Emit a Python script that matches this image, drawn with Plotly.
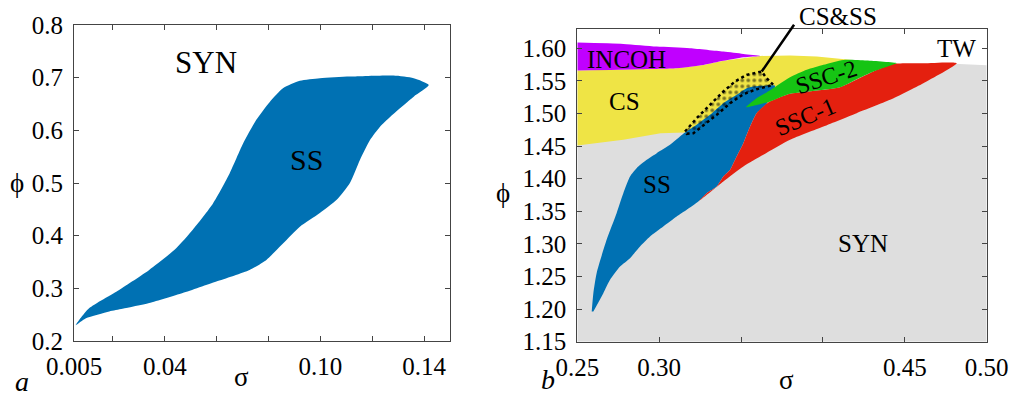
import plotly.graph_objects as go

# ---------------- Panel a : SS region ----------------
ss_a_sigma = [0.0057, 0.0108, 0.0224, 0.0340, 0.0444, 0.0508, 0.0586, 0.0650, 0.0702, 0.0753,
              0.0805, 0.0856, 0.0921, 0.0998, 0.1114, 0.1282, 0.1360, 0.1418,
              0.1360, 0.1270, 0.1230, 0.1192, 0.1153, 0.1114, 0.1063, 0.0998, 0.0921, 0.0856,
              0.0792, 0.0727, 0.0599, 0.0469, 0.0340, 0.0237, 0.0186, 0.0096, 0.0057]
ss_a_phi = [0.230, 0.262, 0.297, 0.335, 0.376, 0.411, 0.461, 0.518, 0.575, 0.620,
            0.654, 0.680, 0.694, 0.699, 0.702, 0.704, 0.699, 0.686,
            0.664, 0.626, 0.607, 0.582, 0.544, 0.500, 0.468, 0.443, 0.417, 0.385,
            0.354, 0.335, 0.313, 0.291, 0.272, 0.261, 0.256, 0.243, 0.230]

# ---------------- Panel b : regions ----------------
syn_sigma = [0.25, 0.50, 0.50, 0.48, 0.44, 0.40, 0.25]
syn_phi = [1.15, 1.15, 1.574, 1.576, 1.572, 1.565, 1.56]

cs_sigma = [0.25, 0.2883, 0.3107, 0.3270, 0.3392, 0.3616, 0.3799, 0.3962, 0.4125, 0.4227,
            0.4104, 0.3799, 0.3656, 0.3514, 0.3290, 0.3158, 0.3009, 0.2781, 0.25]
cs_phi = [1.5658, 1.5678, 1.5693, 1.5744, 1.5806, 1.5882, 1.5888, 1.5872, 1.5831, 1.5806,
          1.5515, 1.5336, 1.5147, 1.4799, 1.4697, 1.4707, 1.4697, 1.4595, 1.4508]

incoh_sigma = [0.25, 0.2781, 0.2985, 0.3188, 0.3392, 0.3514, 0.3616, 0.3514, 0.3392, 0.3270,
               0.3107, 0.2883, 0.25]
incoh_phi = [1.6087, 1.6066, 1.6026, 1.6000, 1.5949, 1.5913, 1.5882, 1.5862, 1.5806, 1.5744,
             1.5693, 1.5678, 1.5658]

ss_b_sigma = [0.2588, 0.2598, 0.2618, 0.2679, 0.2740, 0.2781, 0.2822, 0.2862, 0.2924, 0.2985,
              0.3066, 0.3127, 0.3158, 0.3229, 0.3310, 0.3392, 0.3473, 0.3534, 0.3575, 0.3636,
              0.3707, 0.3656, 0.3595, 0.3555, 0.3514, 0.3473, 0.3433, 0.3392, 0.3351, 0.3290,
              0.3239, 0.3168, 0.3107, 0.3025, 0.2944, 0.2883, 0.2822, 0.2761, 0.2700, 0.2659,
              0.2598]
ss_b_phi = [1.1963, 1.2244, 1.2551, 1.3062, 1.3471, 1.3777, 1.4033, 1.4160, 1.4288, 1.4390,
            1.4518, 1.4646, 1.4707, 1.4825, 1.4978, 1.5157, 1.5285, 1.5387, 1.5412, 1.5423,
            1.5423, 1.5147, 1.5004, 1.4799, 1.4544, 1.4339, 1.4135, 1.4033, 1.3879, 1.3777,
            1.3649, 1.3522, 1.3419, 1.3266, 1.3113, 1.2960, 1.2781, 1.2653, 1.2449, 1.2244,
            1.1963]

ssc1_sigma = [0.3656, 0.3677, 0.3799, 0.3962, 0.4104, 0.4308, 0.4430, 0.4613, 0.4817,
              0.4613, 0.4410, 0.4206, 0.4003, 0.3799, 0.3636, 0.3514, 0.3392, 0.3239,
              0.3290, 0.3351, 0.3392, 0.3433, 0.3473, 0.3514, 0.3555, 0.3595, 0.3656]
ssc1_phi = [1.5147, 1.5182, 1.5300, 1.5351, 1.5402, 1.5642, 1.5760, 1.5770, 1.5770,
            1.5463, 1.5208, 1.5004, 1.4799, 1.4595, 1.4365, 1.4186, 1.3956, 1.3649,
            1.3777, 1.3879, 1.4033, 1.4135, 1.4339, 1.4544, 1.4799, 1.5004, 1.5147]

ssc2_sigma = [0.3530, 0.3595, 0.3656, 0.3718, 0.3799, 0.3901, 0.4003, 0.4125, 0.4267, 0.4450,
              0.4430, 0.4308, 0.4206, 0.4104, 0.3962, 0.3799, 0.3677, 0.3595, 0.3530]
ssc2_phi = [1.5096, 1.5234, 1.5320, 1.5423, 1.5555, 1.5668, 1.5745, 1.5821, 1.5811, 1.5770,
            1.5750, 1.5642, 1.5525, 1.5402, 1.5351, 1.5300, 1.5182, 1.5131, 1.5096]

csss_sigma = [0.3158, 0.3229, 0.3310, 0.3392, 0.3463, 0.3534, 0.3626, 0.3656, 0.3697,
              0.3595, 0.3514, 0.3433, 0.3351, 0.3270, 0.3209, 0.3168, 0.3158]
csss_phi = [1.4723, 1.4927, 1.5131, 1.5336, 1.5489, 1.5591, 1.5642, 1.5540, 1.5438,
            1.5371, 1.5295, 1.5157, 1.4978, 1.4814, 1.4697, 1.4687, 1.4723]

# ticks
a_xticks = [0.005, 0.02, 0.04, 0.06, 0.08, 0.10, 0.12, 0.14]
a_xtext = ["0.005", "", "0.04", "", "", "0.10", "", "0.14"]
a_yticks = [0.2, 0.3, 0.4, 0.5, 0.6, 0.7, 0.8]
a_ytext = ["0.2", "0.3", "0.4", "0.5", "0.6", "0.7", "0.8"]
b_xticks = [0.25, 0.30, 0.35, 0.40, 0.45, 0.50]
b_xtext = ["0.25", "0.30", "", "", "0.45", "0.50"]
b_yticks = [1.15, 1.20, 1.25, 1.30, 1.35, 1.40, 1.45, 1.50, 1.55, 1.60]
b_ytext = ["1.15", "1.20", "1.25", "1.30", "1.35", "1.40", "1.45", "1.50", "1.55", "1.60"]

BLUE = "#0071b3"
GRAY = "#dedede"
YELLOW = "#efe445"
PURPLE = "#c000ff"
GREEN = "#16c414"
RED = "#e4200f"
FONT = "Liberation Serif"

fig = go.Figure()


def region(xs, ys, color, xa, ya, shape="spline"):
    fig.add_trace(go.Scatter(x=xs, y=ys, fill="toself", fillcolor=color, mode="lines",
                             line=dict(width=0, color=color, shape=shape, smoothing=0.6),
                             hoverinfo="skip", showlegend=False, xaxis=xa, yaxis=ya))


region(ss_a_sigma, ss_a_phi, BLUE, "x", "y")
region(syn_sigma, syn_phi, GRAY, "x2", "y2", shape="linear")
region(cs_sigma, cs_phi, YELLOW, "x2", "y2", shape="linear")
region(incoh_sigma, incoh_phi, PURPLE, "x2", "y2")
region(ss_b_sigma, ss_b_phi, BLUE, "x2", "y2")
region(ssc1_sigma, ssc1_phi, RED, "x2", "y2")
region(ssc2_sigma, ssc2_phi, GREEN, "x2", "y2")

# CS&SS dotted region
fig.add_trace(go.Scatter(x=csss_sigma, y=csss_phi, fill="toself", mode="lines",
                         fillcolor="rgba(0,0,0,0)",
                         fillpattern=dict(shape=".", fgcolor="black", bgcolor="rgba(0,0,0,0)",
                                          size=6, solidity=0.3),
                         line=dict(width=2.5, color="black", dash="dot"),
                         hoverinfo="skip", showlegend=False, xaxis="x2", yaxis="y2"))

axis_common = dict(showgrid=False, zeroline=False, showline=True, linecolor="#444",
                   linewidth=1, mirror="ticks", ticks="inside", ticklen=5, tickcolor="#444",
                   automargin=False,
                   tickfont=dict(family=FONT, size=25, color="black"))

fig.update_layout(
    width=1011, height=396,
    margin=dict(l=0, r=0, t=0, b=0),
    paper_bgcolor="white", plot_bgcolor="white",
    xaxis=dict(domain=[74 / 1011, 450 / 1011], range=[0.005, 0.15], tickvals=a_xticks,
               ticktext=a_xtext, anchor="y", ticklabelstandoff=3, **axis_common),
    yaxis=dict(domain=[1 - 341 / 396, 1 - 25 / 396], range=[0.2, 0.8], tickvals=a_yticks,
               ticktext=a_ytext, anchor="x", ticklabelstandoff=5, **axis_common),
    xaxis2=dict(domain=[577.3 / 1011, 986.7 / 1011], range=[0.25, 0.50], tickvals=b_xticks,
                ticktext=b_xtext, anchor="y2", ticklabelstandoff=3, **axis_common),
    yaxis2=dict(domain=[1 - 341.7 / 396, 1 - 29.3 / 396], range=[1.15, 1.629], tickvals=b_yticks,
                ticktext=b_ytext, anchor="x2", ticklabelstandoff=5, **axis_common),
)

anns = []


def label(text, x, y, xr, yr, size=25, angle=0, italic=False):
    anns.append(dict(text=text, x=x, y=y, xref=xr, yref=yr, showarrow=False, textangle=angle,
                     font=dict(family=FONT, size=size, color="black",
                               style="italic" if italic else "normal"),
                     xanchor="center", yanchor="middle"))


# panel a labels
label("SYN", 0.0560, 0.728, "x", "y", size=31)
label("SS", 0.0946, 0.545, "x", "y", size=30)
# panel b labels
label("INCOH", 0.2801, 1.5831, "x2", "y2", size=25)
label("CS", 0.2791, 1.5182, "x2", "y2", size=25)
label("SS", 0.2985, 1.3905, "x2", "y2", size=25)
label("SSC-2", 0.4023, 1.5555, "x2", "y2", size=24, angle=-18)
label("SSC-1", 0.3891, 1.4942, "x2", "y2", size=24, angle=-23)
label("SYN", 0.4247, 1.301, "x2", "y2", size=25)
label("TW", 0.4817, 1.600, "x2", "y2", size=25)
label("CS&SS", 838 / 1011, 1 - 16 / 396, "paper", "paper", size=25)

# axis titles and panel letters
label("σ", 241 / 1011, 1 - 377 / 396, "paper", "paper", size=27)
label("ϕ", 17 / 1011, 1 - 183 / 396, "paper", "paper", size=27)
label("σ", 786.7 / 1011, 1 - 380 / 396, "paper", "paper", size=27)
label("ϕ", 503.3 / 1011, 1 - 193.3 / 396, "paper", "paper", size=27)
label("a", 22 / 1011, 1 - 381 / 396, "paper", "paper", size=28, italic=True)
label("b", 548 / 1011, 1 - 379 / 396, "paper", "paper", size=28, italic=True)

# pointer line for CS&SS
anns.append(dict(text="", x=0.3626, y=1.5642, xref="x2", yref="y2", ax=0.3830, ay=1.6383,
                 axref="x2", ayref="y2", showarrow=True, arrowhead=0, arrowwidth=2.5,
                 arrowcolor="black"))

fig.update_layout(annotations=anns)
fig.write_html("out.html")
